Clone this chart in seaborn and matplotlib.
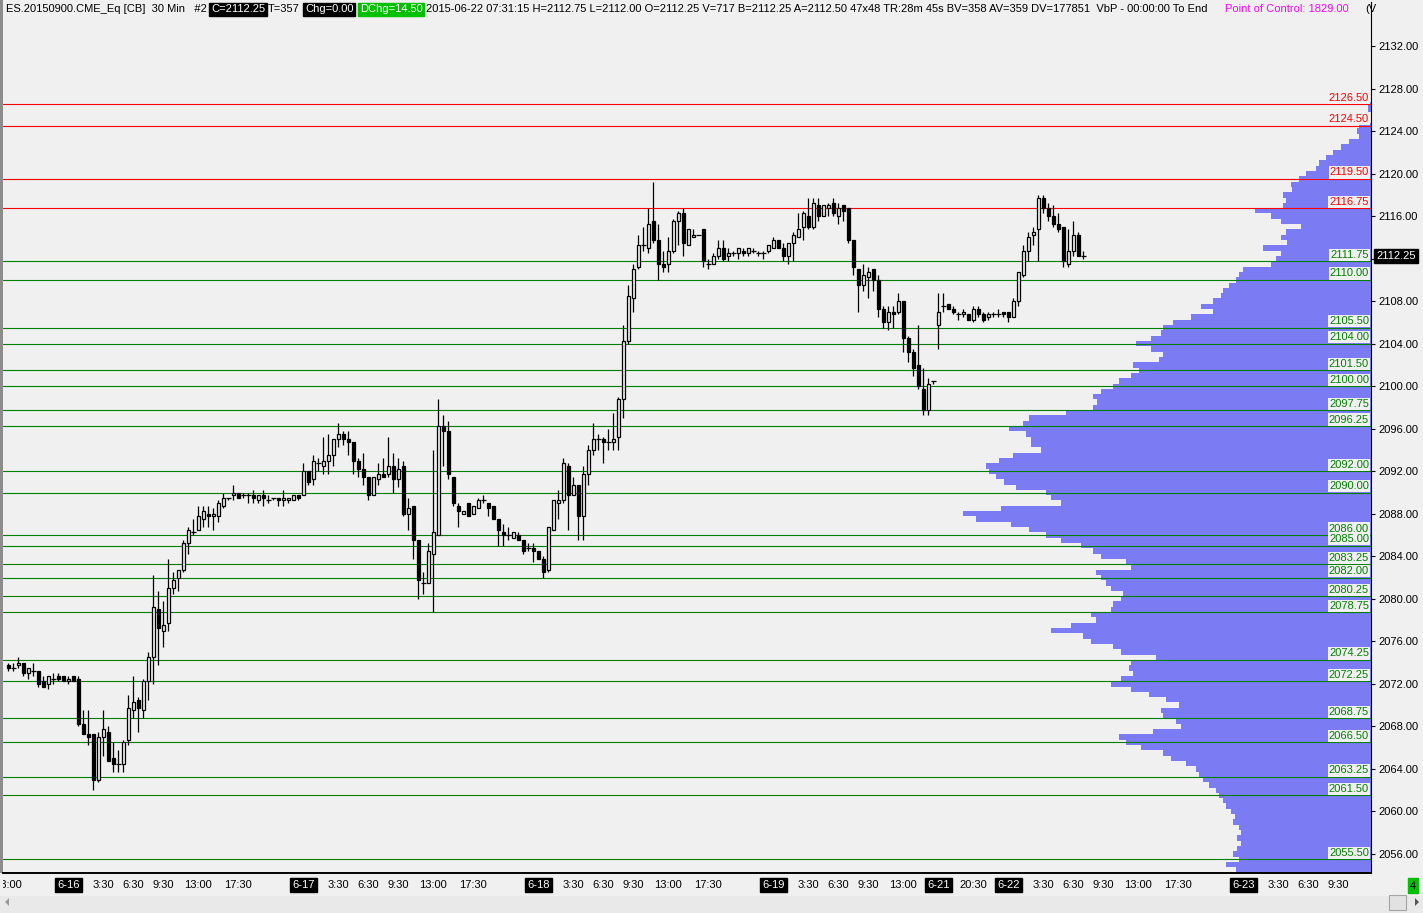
import numpy as np
import pandas as pd
import matplotlib
matplotlib.use("Agg")
import matplotlib.pyplot as plt
import seaborn as sns
from matplotlib.transforms import Bbox, TransformedBbox, blended_transform_factory
from matplotlib.patches import Rectangle, Polygon

# ---------------- data ----------------
opens = [2073.75,2073.5,2073.75,2074.0,2073.0,2073.25,2073.25,2072.25,2072.0,2072.5,
         2072.75,2072.75,2072.25,2072.75,2072.5,2068.25,2067.25,2067.25,2063.0,2067.0,
         2067.5,2065.0,2064.5,2064.5,2066.75,2069.5,2070.5,2069.5,2072.25,2074.5,
         2079.0,2077.0,2077.75,2081.0,2082.0,2082.75,2085.25,2086.25,2086.5,2087.5,
         2088.0,2087.75,2087.75,2088.75,2089.5,2089.75,2090.0,2089.75,2089.75,2089.75,
         2089.25,2089.75,2089.25,2089.5,2089.5,2089.25,2089.25,2089.25,2089.75,2089.75,
         2092.0,2091.25,2092.75,2092.5,2093.0,2093.5,2095.0,2095.5,2095.0,2094.75,
         2093.0,2092.25,2091.5,2089.75,2091.25,2091.75,2091.75,2092.5,2091.25,2092.5,
         2088.0,2088.75,2085.5,2081.5,2081.5,2084.25,2086.0,2096.25,2095.75,2091.5,
         2088.75,2088.0,2089.0,2088.0,2088.5,2089.25,2089.0,2088.75,2087.5,2086.25,
         2086.0,2085.75,2086.0,2085.5,2084.75,2084.75,2084.5,2083.75,2082.75,2086.5,
         2089.0,2089.25,2092.5,2089.75,2090.75,2087.75,2091.75,2094.0,2095.0,2095.0,
         2094.75,2094.75,2095.25,2098.75,2104.25,2108.25,2111.25,2113.25,2113.0,2115.5,
         2113.75,2111.5,2111.5,2112.75,2115.5,2116.25,2113.25,2114.0,2114.25,2114.75,
         2111.5,2111.5,2112.25,2113.0,2112.25,2112.5,2112.5,2112.75,2112.5,2112.75,
         2112.5,2112.5,2112.75,2113.0,2113.75,2113.0,2112.25,2113.5,2114.0,2115.0,
         2116.0,2115.0,2117.0,2116.0,2116.75,2117.25,2116.0,2117.0,2116.75,2113.75,
         2111.0,2109.5,2110.25,2111.0,2110.0,2107.25,2106.0,2107.0,2107.0,2108.0,
         2104.5,2103.25,2102.0,2099.75,2097.75,2100.5,2105.75,2107.5,2107.75,2107.25,
         2106.75,2106.75,2106.75,2106.25,2107.25,2106.75,2106.5,2106.75,2106.75,2107.0,
         2107.0,2106.5,2108.0,2110.5,2112.75,2114.25,2114.75,2117.75,2116.75,2116.0,
         2115.25,2115.0,2111.5,2112.75,2114.25,2112.25]
highs = [2074.0,2074.0,2074.5,2074.0,2073.5,2074.0,2073.25,2072.75,2072.75,2073.0,
         2073.0,2072.75,2072.75,2072.75,2072.75,2069.5,2069.5,2067.25,2067.5,2069.5,
         2068.0,2066.5,2065.75,2066.75,2071.0,2072.75,2070.75,2072.5,2075.0,2082.25,
         2080.75,2079.75,2083.75,2082.5,2082.75,2085.5,2086.75,2087.5,2088.75,2088.75,
         2088.75,2088.5,2089.25,2090.0,2089.5,2090.75,2090.0,2090.0,2090.0,2090.25,
         2089.75,2090.25,2089.75,2089.5,2089.5,2090.25,2089.5,2089.75,2089.75,2092.75,
         2092.0,2093.5,2093.25,2095.25,2095.5,2095.0,2096.5,2095.75,2095.75,2094.75,
         2093.25,2093.75,2091.5,2091.5,2092.75,2093.25,2095.25,2093.75,2093.25,2093.0,
         2089.5,2088.75,2085.5,2082.5,2085.25,2094.0,2098.75,2097.25,2096.75,2091.5,
         2089.0,2088.25,2089.0,2088.75,2089.5,2089.75,2089.0,2088.75,2087.5,2087.0,
         2086.75,2086.25,2086.25,2085.5,2085.25,2085.25,2084.5,2084.0,2086.75,2089.25,
         2090.25,2093.25,2092.75,2091.5,2090.75,2092.5,2094.5,2096.5,2095.5,2095.25,
         2096.0,2097.5,2099.0,2105.75,2109.5,2111.5,2114.25,2115.0,2116.75,2119.25,
         2115.25,2112.75,2114.0,2115.75,2116.5,2116.75,2114.75,2114.75,2114.25,2114.75,
         2112.0,2112.5,2113.75,2113.75,2113.0,2112.75,2113.0,2113.0,2113.0,2113.0,
         2112.75,2112.75,2113.25,2114.0,2113.75,2113.5,2113.5,2114.5,2116.25,2116.5,
         2117.75,2117.75,2117.75,2117.0,2117.25,2117.75,2117.25,2117.0,2116.75,2113.75,
         2111.0,2111.5,2111.25,2111.0,2110.5,2107.5,2107.5,2107.5,2108.75,2108.0,
         2104.75,2103.5,2105.75,2101.75,2100.75,2100.5,2108.75,2108.75,2107.75,2107.5,
         2107.0,2107.25,2106.75,2107.5,2107.5,2107.0,2107.0,2107.0,2107.25,2107.0,
         2107.0,2108.25,2110.75,2113.25,2114.5,2115.0,2118.0,2118.0,2117.25,2117.0,
         2116.25,2115.0,2114.75,2115.5,2114.5,2112.75]
lows = [2073.25,2073.25,2073.5,2072.75,2072.5,2072.75,2071.75,2071.75,2071.5,2072.0,
        2072.25,2072.25,2072.0,2072.25,2068.0,2067.25,2066.25,2062.0,2062.75,2065.25,
        2064.75,2063.75,2063.75,2063.75,2066.25,2068.75,2067.5,2068.75,2070.5,2072.0,
        2073.75,2075.5,2077.0,2080.5,2080.75,2082.5,2084.25,2086.0,2086.5,2086.75,
        2086.75,2086.5,2087.25,2088.5,2089.25,2089.25,2089.5,2089.5,2089.0,2089.0,
        2089.0,2088.75,2089.0,2089.25,2088.75,2088.75,2089.0,2089.25,2089.25,2089.75,
        2090.75,2090.75,2092.0,2091.75,2091.75,2092.5,2094.25,2094.5,2093.5,2091.75,
        2091.5,2090.75,2089.25,2089.75,2090.75,2091.5,2091.5,2090.0,2090.5,2087.75,
        2086.5,2083.75,2080.0,2080.5,2081.5,2078.75,2086.0,2092.5,2091.25,2088.75,
        2086.75,2088.0,2087.75,2088.0,2088.5,2089.0,2087.75,2087.5,2085.0,2085.0,
        2085.5,2085.75,2085.5,2084.25,2084.5,2083.5,2083.75,2082.0,2082.5,2086.5,
        2087.5,2089.0,2086.5,2089.75,2085.5,2085.5,2090.75,2093.5,2094.0,2092.75,
        2094.0,2094.0,2094.0,2097.0,2104.0,2107.0,2111.0,2112.75,2112.5,2113.5,
        2110.0,2110.75,2110.75,2112.5,2113.25,2112.25,2113.25,2114.0,2114.25,2111.25,
        2111.0,2111.5,2112.0,2111.75,2111.75,2112.25,2112.0,2112.25,2112.25,2112.5,
        2112.25,2112.0,2112.5,2113.0,2113.0,2111.75,2111.5,2111.75,2114.0,2113.75,
        2114.75,2114.75,2115.5,2116.0,2116.0,2116.0,2115.25,2115.5,2113.5,2110.5,
        2107.0,2109.0,2108.25,2109.0,2106.5,2105.5,2105.25,2105.5,2106.75,2103.25,
        2102.25,2101.0,2099.75,2097.25,2097.25,2100.25,2103.5,2107.0,2107.25,2106.75,
        2106.25,2106.5,2106.25,2106.0,2106.5,2106.0,2106.25,2106.5,2106.5,2106.5,
        2106.0,2106.5,2107.5,2110.25,2111.75,2113.25,2111.75,2116.25,2115.5,2115.0,
        2114.5,2111.25,2111.25,2112.25,2112.25,2112.0]
closes = [2073.5,2073.5,2074.0,2073.0,2073.5,2073.25,2072.0,2071.75,2072.75,2072.5,
          2072.5,2072.25,2072.5,2072.25,2068.25,2067.25,2067.0,2063.0,2067.0,2067.75,
          2064.75,2064.5,2064.5,2066.5,2069.75,2070.25,2069.75,2072.25,2074.5,2079.25,
          2077.25,2077.5,2081.0,2081.75,2082.75,2085.25,2086.5,2086.25,2087.75,2088.25,
          2087.75,2088.0,2089.0,2089.5,2089.5,2090.0,2089.5,2089.75,2089.75,2089.5,
          2089.75,2089.5,2089.25,2089.5,2089.25,2089.5,2089.5,2089.75,2089.5,2092.0,
          2091.0,2093.0,2092.75,2093.0,2093.5,2095.0,2095.5,2095.0,2094.75,2093.0,
          2092.25,2091.5,2089.75,2091.5,2091.75,2091.5,2092.5,2091.25,2092.25,2088.0,
          2088.5,2085.5,2081.75,2081.5,2084.5,2086.25,2096.25,2095.75,2091.75,2089.0,
          2088.25,2088.25,2087.75,2088.75,2089.25,2089.25,2088.5,2087.5,2086.5,2086.0,
          2086.0,2086.25,2085.5,2084.5,2084.75,2084.5,2083.75,2082.5,2086.75,2089.25,
          2089.25,2092.75,2089.75,2090.75,2087.75,2091.75,2094.0,2095.0,2095.0,2094.75,
          2094.75,2095.0,2098.75,2104.25,2108.5,2111.0,2113.25,2113.25,2115.25,2113.75,
          2111.5,2111.25,2112.75,2115.5,2116.25,2113.5,2114.75,2114.25,2114.25,2111.75,
          2111.5,2112.25,2113.0,2112.0,2112.5,2112.5,2113.0,2112.5,2113.0,2112.75,
          2112.5,2112.5,2113.25,2113.75,2113.0,2112.25,2113.5,2114.25,2114.75,2116.25,
          2115.0,2117.25,2116.0,2117.0,2117.0,2116.25,2116.75,2116.5,2113.75,2111.25,
          2109.5,2110.5,2110.75,2110.0,2107.25,2106.0,2107.0,2106.75,2108.0,2104.5,
          2103.25,2101.75,2100.0,2097.75,2100.25,2100.5,2107.0,2107.5,2107.25,2107.0,
          2106.75,2107.0,2106.25,2107.25,2106.75,2106.25,2106.75,2106.75,2106.75,2106.75,
          2106.5,2108.0,2110.75,2112.75,2114.0,2114.5,2117.75,2116.75,2116.0,2115.25,
          2114.75,2111.75,2112.75,2114.25,2112.25,2112.25]

levels_red = [2126.50, 2124.50, 2119.50, 2116.75]
levels_green = [2111.75, 2110.00, 2105.50, 2104.00, 2101.50, 2100.00, 2097.75, 2096.25,
                2092.00, 2090.00, 2086.00, 2085.00, 2083.25, 2082.00, 2080.25, 2078.75,
                2074.25, 2072.25, 2068.75, 2066.50, 2063.25, 2061.50, 2055.50]

# volume profile: price rows (0.5 apart) and the width of each row
profile_prices = [2054.5, 2055.0, 2055.5, 2056.0, 2056.5, 2057.0, 2057.5, 2058.0, 2058.5,
                  2059.0, 2059.5, 2060.0, 2060.5, 2061.0, 2061.5, 2062.0, 2062.5, 2063.0,
                  2063.5, 2064.0, 2064.5, 2065.0, 2065.5, 2066.0, 2066.5, 2067.0, 2067.5,
                  2068.0, 2068.5, 2069.0, 2069.5, 2070.0, 2070.5, 2071.0, 2071.5, 2072.0,
                  2072.5, 2073.0, 2073.5, 2074.0, 2074.5, 2075.0, 2075.5, 2076.0, 2076.5,
                  2077.0, 2077.5, 2078.0, 2078.5, 2079.0, 2079.5, 2080.0, 2080.5, 2081.0,
                  2081.5, 2082.0, 2082.5, 2083.0, 2083.5, 2084.0, 2084.5, 2085.0, 2085.5,
                  2086.0, 2086.5, 2087.0, 2087.5, 2088.0, 2088.5, 2089.0, 2089.5, 2090.0,
                  2090.5, 2091.0, 2091.5, 2092.0, 2092.5, 2093.0, 2093.5, 2094.0, 2094.5,
                  2095.0, 2095.5, 2096.0, 2096.5, 2097.0, 2097.5, 2098.0, 2098.5, 2099.0,
                  2099.5, 2100.0, 2100.5, 2101.0, 2101.5, 2102.0, 2102.5, 2103.0, 2103.5,
                  2104.0, 2104.5, 2105.0, 2105.5, 2106.0, 2106.5, 2107.0, 2107.5, 2108.0,
                  2108.5, 2109.0, 2109.5, 2110.0, 2110.5, 2111.0, 2111.5, 2112.0, 2112.5,
                  2113.0, 2113.5, 2114.0, 2114.5, 2115.0, 2115.5, 2116.0, 2116.5, 2117.0,
                  2117.5, 2118.0, 2118.5, 2119.0, 2119.5, 2120.0, 2120.5, 2121.0, 2121.5,
                  2122.0, 2122.5, 2123.0, 2123.5, 2124.0, 2124.5, 2125.0, 2125.5, 2126.0,
                  2126.5]
profile_volume = [135, 145, 132, 138, 134, 130, 134, 130, 132,
                  138, 136, 140, 145, 148, 152, 155, 162, 168,
                  172, 175, 185, 200, 208, 230, 245, 252, 218,
                  190, 195, 208, 210, 192, 205, 222, 240, 260,
                  250, 238, 242, 240, 215, 250, 258, 280, 288,
                  320, 300, 275, 280, 260, 258, 250, 248, 260,
                  265, 270, 275, 240, 245, 270, 278, 290, 310,
                  325, 342, 360, 395, 408, 370, 310, 320, 325,
                  355, 367, 375, 382, 385, 372, 358, 330, 340,
                  340, 345, 362, 348, 342, 305, 278, 274, 278,
                  270, 258, 252, 240, 232, 238, 212, 208, 220,
                  235, 220, 210, 208, 198, 180, 158, 170, 158,
                  150, 148, 142, 135, 132, 128, 100, 95, 90,
                  108, 84, 90, 85, 70, 90, 100, 116, 88,
                  85, 88, 79, 80, 72, 65, 55, 52, 45,
                  38, 30, 22, 12, 14, 12, 0, 0, 3,
                  3]

price_ticks = list(range(2056, 2133, 4))
last_price = 2112.25

time_tick_idx = [0, 12, 19, 25, 31, 38, 46, 59, 66, 72, 78, 85, 93, 106, 113, 119, 125,
                 132, 140, 153, 160, 166, 172, 179, 186, 193, 200, 207, 213, 219, 226,
                 234, 247, 254, 260, 266]
time_tick_labels = ['18:00', '6-16', '3:30', '6:30', '9:30', '13:00', '17:30', '6-17',
                    '3:30', '6:30', '9:30', '13:00', '17:30', '6-18', '3:30', '6:30',
                    '9:30', '13:00', '17:30', '6-19', '3:30', '6:30', '9:30', '13:00',
                    '6-21', '20:30', '6-22', '3:30', '6:30', '9:30', '13:00', '17:30',
                    '6-23', '3:30', '6:30', '9:30']

# ---------------- style ----------------
sns.set_style("white")
plt.rcParams['font.family'] = ['Liberation Sans', 'DejaVu Sans']
FS = 8

W, H = 1423, 913
BG = '#f0f0f0'
PROF = '#7b7bf3'
RED = '#ff0000'
GREEN = '#008000'

fig = plt.figure(figsize=(W / 100, H / 100), dpi=100, facecolor=BG)
L, R, T, B = 3, 1371, 2, 873
rect = [L / W, 1 - B / H, (R - L) / W, (B - T) / H]
axp = fig.add_axes(rect, zorder=0)
ax = fig.add_axes(rect, zorder=1, sharey=axp)
ax.patch.set_visible(False)
axp.set_facecolor(BG)

# volume profile (seaborn, anchored to the right edge)
df_prof = pd.DataFrame({'price': profile_prices, 'volume': profile_volume})
sns.barplot(data=df_prof, x='volume', y='price', orient='y', native_scale=True,
            color=PROF, saturation=1, width=1.0, errorbar=None, linewidth=0, ax=axp)
axp.set_xlim(R - L - 1, 0)
axp.set_xlabel('')
axp.set_ylabel('')
axp.tick_params(left=False, labelleft=False, bottom=False, labelbottom=False,
                right=False, labelright=False)
for s in axp.spines.values():
    s.set_visible(False)

ymin, ymax = 2054.21, 2136.14
ax.set_xlim(-1.06, 272.54)
ax.set_ylim(ymin, ymax)

# level lines and labels
blend = blended_transform_factory(ax.transAxes, ax.transData)
levels = [(v, RED) for v in levels_red] + [(v, GREEN) for v in levels_green]
for v, col in levels:
    ax.axhline(v, color=col, linewidth=0.8, zorder=2)
for v, col in sorted(levels, key=lambda t: -t[0]):
    ax.annotate(f"{v:.2f}", xy=(0.9985, v), xycoords=blend, xytext=(0, 1.5),
                textcoords='offset pixels', ha='right', va='bottom', color=col,
                fontsize=FS, zorder=3,
                bbox=dict(facecolor=BG, edgecolor='none', pad=0.8))

# candles
idx = np.arange(len(opens))
o, h, l, c = (np.array(a, dtype=float) for a in (opens, highs, lows, closes))
ax.vlines(idx, l, h, color='black', linewidth=0.9, zorder=4)
up = c > o
dn = c < o
eq = c == o
ax.bar(idx[up], (c - o)[up], bottom=o[up], width=0.7, facecolor=BG,
       edgecolor='black', linewidth=0.9, zorder=5)
ax.bar(idx[dn], (c - o)[dn], bottom=o[dn], width=0.7, facecolor='black',
       edgecolor='black', linewidth=0.9, zorder=5)
ax.hlines(o[eq], idx[eq] - 0.45, idx[eq] + 0.45, color='black', linewidth=0.9, zorder=5)

# right price axis (the 2112.00 label sits under the last-price box)
ax.yaxis.tick_right()
ax.set_yticks(price_ticks)
ax.set_yticklabels(['' if v == 2112 else f"{v:.2f}" for v in price_ticks])
ax.tick_params(axis='y', which='major', length=3, width=0.8, pad=2,
               labelsize=FS, colors='black', direction='out')
ax.annotate(f"{last_price:.2f}", xy=(1, last_price), xycoords=blend, xytext=(5, 0),
            textcoords='offset pixels', ha='left', va='center', color='white',
            fontsize=FS, annotation_clip=False, zorder=10,
            bbox=dict(facecolor='black', edgecolor='black', pad=1.5))

# bottom time axis
ax.set_xticks(time_tick_idx)
ax.set_xticklabels([])
ax.tick_params(axis='x', length=3, width=0.8, direction='out', colors='black')
clip = TransformedBbox(Bbox.from_extents(L / W, 0, 1, 1), fig.transFigure)
xblend = blended_transform_factory(ax.transData, ax.transAxes)
for i, lab in zip(time_tick_idx, time_tick_labels):
    is_date = '-' in lab
    t = ax.text(i, -12 / (B - T), lab, transform=xblend, ha='center', va='center',
                fontsize=FS, color='white' if is_date else 'black', zorder=10,
                bbox=dict(facecolor='black', edgecolor='black', pad=1.5) if is_date else None)
    t.set_clip_on(True)
    t.set_clip_box(clip)

for side in ['top', 'left']:
    ax.spines[side].set_visible(False)
ax.spines['right'].set_color('black')
ax.spines['right'].set_linewidth(0.8)
ax.spines['bottom'].set_color('black')
ax.spines['bottom'].set_linewidth(1.4)

# left border
fig.add_artist(Rectangle((0, 1 - B / H), 2.5 / W, B / H, transform=fig.transFigure,
                         facecolor='#8c8c8c', edgecolor='none'))

# header
hy = 1 - 9.5 / H
def htext(x, s, color='black', box=None):
    kw = {}
    if box is not None:
        kw['bbox'] = dict(facecolor=box, edgecolor=box, pad=1.2)
    fig.text(x / W, hy, s, ha='left', va='center', fontsize=FS, color=color, **kw)

htext(6, 'ES.20150900.CME_Eq [CB]  30 Min   #2')
htext(211, 'C=2112.25', color='white', box='black')
htext(268, 'T=357')
htext(305, 'Chg=0.00', color='white', box='black')
htext(360, 'DChg=14.50', color='white', box='#00c000')
htext(426, '2015-06-22 07:31:15 H=2112.75 L=2112.00 O=2112.25 V=717 B=2112.25 '
           'A=2112.50 47x48 TR:28m 45s BV=358 AV=359 DV=177851  VbP - 00:00:00 To End')
htext(1225, 'Point of Control: 1829.00', color='#ff00ff')
htext(1365, '(V')

# scrollbar strip
fig.add_artist(Rectangle((0, 0), 1, 17 / H, transform=fig.transFigure,
                         facecolor='#e9e9e9', edgecolor='none'))
fig.add_artist(Polygon([(5 / W, 1 - 902 / H), (9 / W, 1 - 898 / H), (9 / W, 1 - 906 / H)],
                       closed=True, transform=fig.transFigure, facecolor='#9a9a9a',
                       edgecolor='none'))
fig.add_artist(Polygon([(1419 / W, 1 - 902 / H), (1415 / W, 1 - 898 / H),
                        (1415 / W, 1 - 906 / H)], closed=True, transform=fig.transFigure,
                       facecolor='#555555', edgecolor='none'))
fig.add_artist(Rectangle((1389 / W, 1 - 910 / H), 17 / W, 15 / H, transform=fig.transFigure,
                         facecolor='#e2e2e2', edgecolor='#a5a5a5', linewidth=0.8))
fig.text(1413 / W, 1 - 885.5 / H, '4', ha='center', va='center', fontsize=FS,
         color='black', bbox=dict(facecolor='#00c000', edgecolor='#00c000', pad=1.5))

fig.savefig('out.png', dpi=100, facecolor=BG)
